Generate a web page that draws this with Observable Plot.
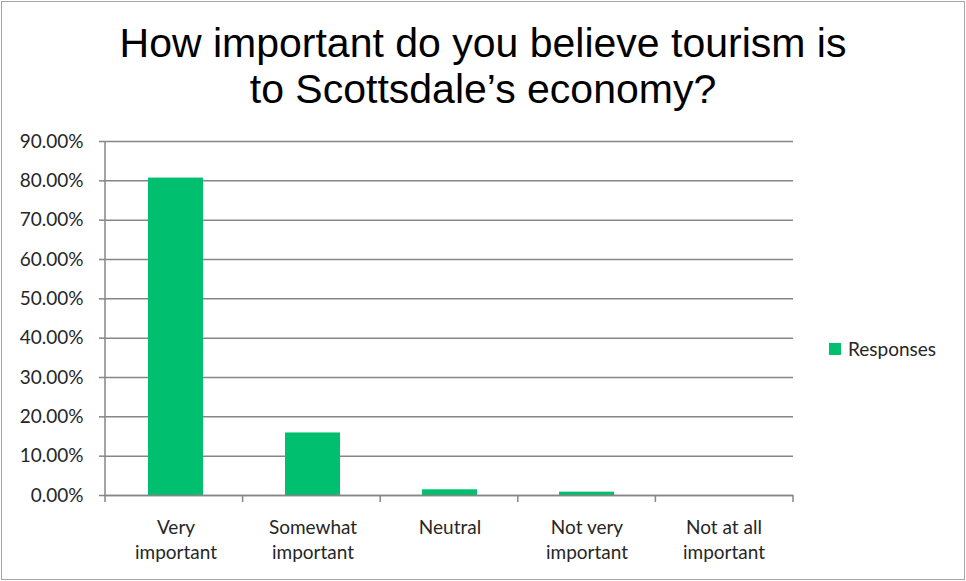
<!DOCTYPE html>
<html>
<head>
<meta charset="utf-8">
<script src="https://cdn.jsdelivr.net/npm/d3@7"></script>
<script src="https://cdn.jsdelivr.net/npm/@observablehq/plot@0.6"></script>
<style>
  html, body { margin: 0; padding: 0; background: #fff; }
  #wrap { position: relative; width: 966px; height: 581px; overflow: hidden; background: #fff; }
  #border { position: absolute; left: 1px; top: 1px; width: 962px; height: 577px; border: 1px solid #a6a6a6; box-sizing: content-box; pointer-events: none; }
  #title { position: absolute; left: 0; top: 20px; width: 966px; text-align: center; font-family: "Liberation Sans", Arial, sans-serif; font-size: 41px; line-height: 46px; color: #000; }
  #legend { position: absolute; left: 829px; top: 337px; font-family: "Lato", "Noto Sans", sans-serif; font-size: 19px; color: #262626; display: flex; align-items: center; }
  #legend .sw { width: 12px; height: 12px; background: #00bf6f; margin-right: 7px; }
  #chart { position: absolute; left: 0; top: 0; }
</style>
</head>
<body>
<div id="wrap">
  <div id="chart"></div>
  <div id="title">How important do you believe tourism is<br>to Scottsdale’s economy?</div>
  <div id="legend"><div class="sw"></div><span>Responses</span></div>
  <div id="border"></div>
</div>
<script>
const categories = ["Very\nimportant", "Somewhat\nimportant", "Neutral", "Not very\nimportant", "Not at all\nimportant"];
const responses = [80.7, 15.9, 1.45, 0.85, 0];
const yTicks = [0, 10, 20, 30, 40, 50, 60, 70, 80, 90];
const seriesName = "Responses";

const data = categories.map((c, i) => ({category: c, value: responses[i], series: seriesName}));

const gridColor = "#868686";
const textColor = "#262626";

// axis lines and band-boundary ticks drawn from the plot's dimensions
function axisFrame(index, scales, values, dimensions) {
  const {width, height, marginLeft, marginRight, marginTop, marginBottom} = dimensions;
  const g = d3.create("svg:g");
  const x0 = marginLeft, x1 = width - marginRight, yb = height - marginBottom;
  g.append("line").attr("x1", x0).attr("x2", x0).attr("y1", marginTop).attr("y2", yb)
    .attr("stroke", gridColor).attr("stroke-width", 1.5);
  const n = categories.length;
  for (let i = 0; i <= n; i++) {
    const x = x0 + i * (x1 - x0) / n;
    g.append("line").attr("x1", x).attr("x2", x).attr("y1", yb).attr("y2", yb + 7)
      .attr("stroke", gridColor).attr("stroke-width", 1.5);
  }
  return g.node();
}

const plot = Plot.plot({
  width: 966,
  height: 581,
  marginLeft: 105,
  marginRight: 173,
  marginTop: 141,
  marginBottom: 86,
  style: {fontFamily: "Lato, 'Noto Sans', sans-serif", fontSize: "19px", color: textColor, background: "transparent"},
  x: {domain: categories, paddingInner: 0.6, paddingOuter: 0.3, label: null},
  y: {domain: [0, 90], label: null},
  marks: [
    Plot.gridY(yTicks, {stroke: gridColor, strokeOpacity: 1, strokeWidth: 1.5}),
    Plot.barY(data, {x: "category", y: "value", fill: "#00bf6f"}),
    Plot.ruleY([0], {stroke: gridColor, strokeWidth: 1.5}),
    axisFrame,
    Plot.axisY({ticks: yTicks, tickSize: 6, tickPadding: 16, stroke: gridColor, strokeWidth: 1.5,
      tickFormat: d => d.toFixed(2) + "%", fill: textColor, fontSize: 19, label: null}),
    Plot.axisX({tickSize: 0, tickPadding: 21, lineHeight: 1.3, fill: textColor, fontSize: 19, label: null})
  ]
});
document.getElementById("chart").appendChild(plot);
</script>
</body>
</html>
